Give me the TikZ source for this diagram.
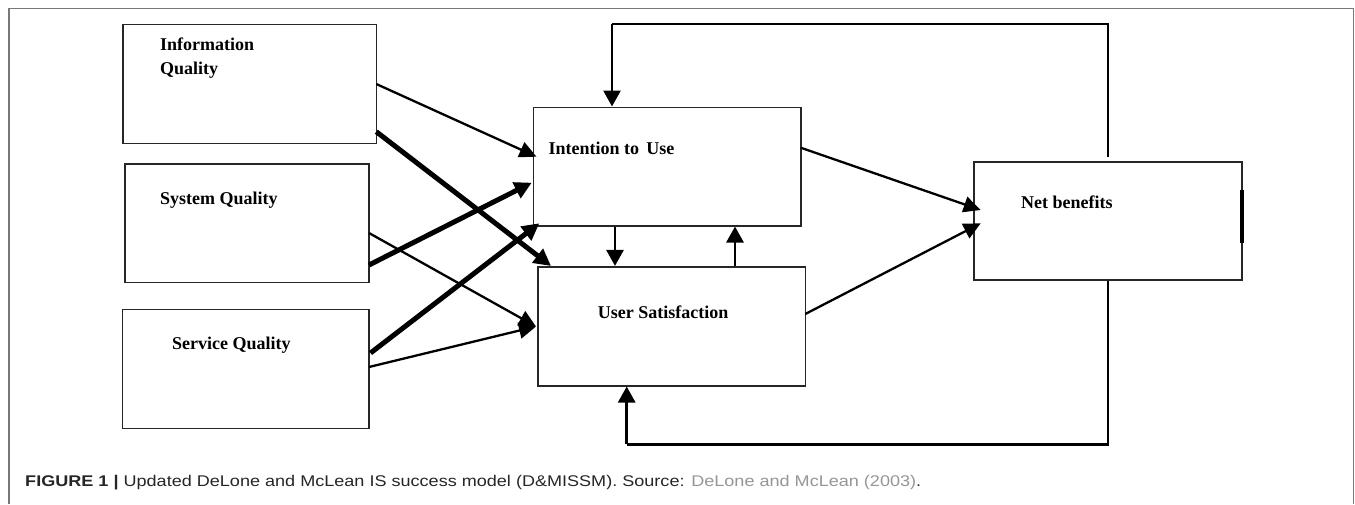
\documentclass[tikz,border=0pt]{standalone}
\usepackage{fontspec}
\setmainfont{Liberation Serif}
\newfontfamily\capfont{Liberation Sans}
\usetikzlibrary{arrows.meta}
\definecolor{framegray}{RGB}{120,120,120}
\definecolor{srcgray}{RGB}{150,150,150}
\begin{document}
\begin{tikzpicture}[x=1pt,y=-1pt,
  box/.style={draw=black!85,line width=1.6pt,rectangle,inner sep=0pt},
  lbl/.style={anchor=base west,inner sep=0pt,font=\fontsize{18}{20}\selectfont\bfseries},
  thin/.style={line width=2.3pt,-{Triangle[length=17pt,width=16pt]}},
  thick/.style={line width=5pt,-{Triangle[length=17pt,width=17pt]}},
  fb/.style={line width=2.8pt},
  fbarrow/.style={line width=2.8pt,-{Triangle[length=16pt,width=17pt]}}]
\useasboundingbox (0,0) rectangle (1355,504);
\fill[white] (0,0) rectangle (1355,504);
% outer frame
\draw[framegray,line width=1.2pt] (9,504) -- (9,8.5) -- (1353.7,8.5) -- (1353.7,504);
% boxes
\node[box,minimum width=253.6pt,minimum height=119pt] (iq) at (249.5,83.8) {};
\node[box,minimum width=244pt,minimum height=118.7pt] (sq) at (247,223.3) {};
\node[box,minimum width=246.3pt,minimum height=119pt] (svq) at (245.8,368.8) {};
\node[box,minimum width=267.4pt,minimum height=118.4pt] (iu) at (667,166.5) {};
\node[box,minimum width=267.6pt,minimum height=119pt] (us) at (671.5,326.2) {};
\node[box,minimum width=268pt,minimum height=118pt] (nb) at (1108,221) {};
\draw[line width=3.5pt] (1242,190) -- (1242,242.7);
% labels
\node[lbl] (iqa) at (160,50.7) {Information};
\node[lbl] (iqb) at (160,74) {Quality};
\node[lbl] (sql) at (160,204.3) {System Quality};
\node[lbl] (svql) at (172,349) {Service Quality};
\node[lbl] (iul) at (548.3,154) {Intention to\, Use};
\node[lbl] (usl) at (597.7,318.3) {User Satisfaction};
\node[lbl] (nbl) at (1021,208.3) {Net benefits};
% endpoints
\coordinate (iqr1) at (376.3,84);
\coordinate (iqr2) at (376.3,131.7);
\coordinate (sqr1) at (369,233);
\coordinate (sqr2) at (369,265);
\coordinate (svr1) at (370.5,353);
\coordinate (svr2) at (369,367);
\coordinate (iuin1) at (536.5,156.7);
\coordinate (iuin2) at (531.7,182.7);
\coordinate (iuin3) at (539.3,223.3);
\coordinate (usin1) at (551,266);
\coordinate (usin2) at (536,326.5);
\coordinate (iuout) at (800.7,147.7);
\coordinate (usout) at (805.3,314);
\coordinate (nbin1) at (980.7,210);
\coordinate (nbin2) at (980.7,223.3);
% connectors
\draw[thin] (iqr1) -- (iuin1);
\draw[thick] (iqr2) -- (usin1);
\draw[thick] (sqr2) -- (iuin2);
\draw[thick] (svr1) -- (iuin3);
\draw[thin] (sqr1) -- (usin2);
\draw[thin] (svr2) -- (usin2);
\draw[thin] (iuout) -- (nbin1);
\draw[thin] (usout) -- (nbin2);
\draw[fbarrow] (iu.south -| 615,0) -- (us.north -| 615,0);
\draw[fbarrow] (us.north -| 735,0) -- (iu.south -| 735,0);
% feedback loops
\coordinate (t1) at (1108,157);
\coordinate (t2) at (1108,24);
\coordinate (t3) at (612,24);
\draw[fb] (t1) -- (t2) -- (t3);
\draw[fbarrow] (t3) -- (iu.north -| t3);
\coordinate (b2) at (1108,444.3);
\coordinate (b3) at (626.7,444.3);
\draw[fb] (nb.south) -- (b2) -- (b3);
\draw[fbarrow] (b3) -- (us.south -| b3);
% caption
\node[anchor=base west,inner sep=0pt,font=\capfont\fontsize{15.5}{17}\selectfont,text=black!85,xscale=1.165] (cap) at (25,486.5)
 {\textbf{FIGURE 1 |} Updated DeLone and McLean IS success model (D\&MISSM). Source: \textcolor{srcgray}{DeLone and McLean (2003)}.};
\end{tikzpicture}
\end{document}
